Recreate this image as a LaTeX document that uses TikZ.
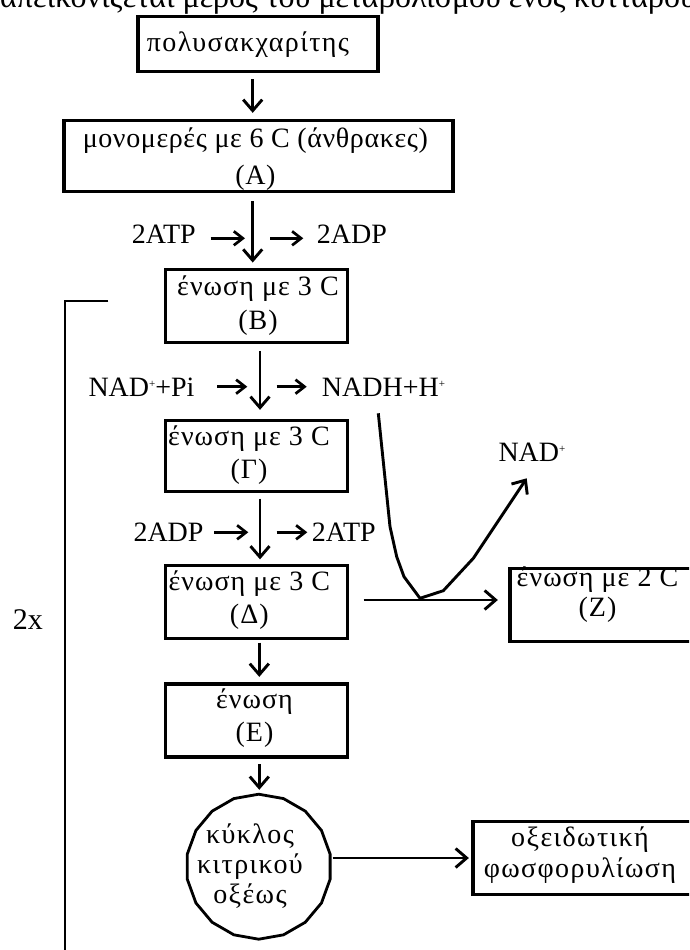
\documentclass[tikz,border=0pt]{standalone}
\usepackage{fontspec}
\setmainfont{Liberation Serif}
\newfontfamily\gkA[LetterSpace=2.2]{Liberation Serif}
\newfontfamily\gkB[LetterSpace=3.8]{Liberation Serif}
\newfontfamily\gkC[LetterSpace=5]{Liberation Serif}
\usetikzlibrary{arrows.meta,shapes.geometric}
\newcommand{\supplus}{\raisebox{9pt}{\fontsize{11}{11}\selectfont +}}
\begin{document}
\begin{tikzpicture}[x=1pt,y=-1pt,
  bx/.style={draw, line width=3.3pt, rectangle, inner sep=0pt},
  tx/.style={font=\gkB\fontsize{28}{33.4}\selectfont, align=center, inner sep=0pt},
  lb/.style={font=\fontsize{28}{33}\selectfont, inner sep=0pt, anchor=base west},
  arr/.style={line width=2.9pt, -{Straight Barb[length=11pt,width=19pt]}},
  sarr/.style={line width=2.7pt, -{Straight Barb[length=9pt,width=14pt]}},
]
\useasboundingbox (0,0) rectangle (689,950);
\clip (0,0) rectangle (689,950);

% cut-off heading line
\node[lb, font=\fontsize{32}{32}\selectfont] (head) at (0,7.5) {απεικονίζεται μέρος του μεταβολισμού ενός κυττάρου};

% boxes
\node[bx, minimum width=240pt, minimum height=55pt] (b1) at (258,43.9) {};
\node[tx, font=\gkC\fontsize{28}{33}\selectfont] (t1) at (248,45) {πολυσακχαρίτης};

\node[bx, minimum width=389pt, minimum height=71pt] (bA) at (258.5,156) {};
\node[tx, font=\gkA\fontsize{28}{36.6}\selectfont] (tA) at (255.4,159) {μονομερές με 6 C (άνθρακες)\\(A)};

\node[bx, minimum width=182pt, minimum height=73pt] (bB) at (256.8,306.2) {};
\node[tx, font=\gkB\fontsize{28}{34}\selectfont] (tB) at (258,306) {ένωση με 3 C\\(B)};

\node[bx, minimum width=182pt, minimum height=71pt] (bG) at (256.8,456) {};
\node[tx] (tG) at (249,455) {ένωση με 3 C\\(Γ)};

\node[bx, minimum width=182pt, minimum height=73pt] (bD) at (256.5,602) {};
\node[tx] (tD) at (249.3,600) {ένωση με 3 C\\(Δ)};

\node[bx, minimum width=182pt, minimum height=73pt] (bE) at (256.5,720.5) {};
\node[tx] (tE) at (254.5,718.4) {ένωση\\(E)};

\node[bx, minimum width=240pt, minimum height=73pt] (bZ) at (630,605.3) {};
\node[tx, font=\gkB\fontsize{28}{30}\selectfont] (tZ) at (597.5,595) {ένωση με 2 C\\(Z)};

\node[bx, minimum width=260pt, minimum height=73pt] (bO) at (603,858) {};
\node[tx, font=\gkC\fontsize{28}{31}\selectfont] (tO) at (580,855) {οξειδωτική\\φωσφορυλίωση};

\node[draw, line width=2.8pt, regular polygon, regular polygon sides=18,
      shape border rotate=10, minimum size=145pt, inner sep=0pt] (cy) at (258.7,866.7) {};
\node[tx, font=\gkC\fontsize{28}{30}\selectfont] (tC) at (250,866) {κύκλος\\κιτρικού\\οξέως};

% side labels
\node[lb] (atp1) at (131.7,243.3) {2ATP};
\node[lb] (adp1) at (316.7,243.3) {2ADP};
\node[lb] (nadpi) at (88.3,396.5) {NAD\supplus+Pi};
\node[lb] (nadh) at (321.7,396.5) {NADH+H\supplus};
\node[lb] (adp2) at (133.3,541.5) {2ADP};
\node[lb] (atp2) at (311.7,541.5) {2ATP};
\node[lb] (nadp) at (498.3,461) {NAD\supplus};
\node[lb, font=\fontsize{30}{33}\selectfont] (twox) at (12.7,629) {2x};

% main vertical arrows
\draw[arr, shorten <=6pt, shorten >=6pt] ([xshift=-5.3pt]b1.south) -- ([xshift=-5.8pt]bA.north);
\draw[arr, shorten <=8pt, shorten >=5.5pt] ([xshift=-5.8pt]bA.south) -- ([xshift=-4.1pt]bB.north);
\draw[arr, shorten <=6.5pt, shorten >=9pt] ([xshift=3.2pt]bB.south) -- ([xshift=3.2pt]bG.north);
\draw[arr, shorten <=5.5pt, shorten >=4.5pt] ([xshift=3.2pt]bG.south) -- ([xshift=3.5pt]bD.north);
\draw[arr, shorten <=2.5pt, shorten >=5.5pt] ([xshift=2.8pt]bD.south) -- ([xshift=2.8pt]bE.north);
\draw[arr, shorten <=5.5pt, shorten >=3pt] ([xshift=2.8pt]bE.south) -- ([xshift=0.6pt]cy.north);

% small side arrows
\coordinate (s1a) at (210.7,238.3); \coordinate (s1b) at (245,238.3);
\coordinate (s2a) at (270,238.3);   \coordinate (s2b) at (303.3,238.3);
\coordinate (s3a) at (217.3,386.7); \coordinate (s3b) at (247.3,386.7);
\coordinate (s4a) at (276.7,386.7); \coordinate (s4b) at (306.7,386.7);
\coordinate (s5a) at (214,532.3);   \coordinate (s5b) at (248.3,532.3);
\coordinate (s6a) at (276.7,532.3); \coordinate (s6b) at (307.3,532.3);
\draw[sarr] (s1a) -- (s1b);
\draw[sarr] (s2a) -- (s2b);
\draw[sarr] (s3a) -- (s3b);
\draw[sarr] (s4a) -- (s4b);
\draw[sarr] (s5a) -- (s5b);
\draw[sarr] (s6a) -- (s6b);

% horizontal arrows
\draw[arr, shorten <=14.5pt, shorten >=10.5pt] ([yshift=2pt]bD.east) -- ([yshift=2pt]bD.east -| bZ.west);
\draw[arr, shorten <=1pt, shorten >=2.5pt] (cy.east |- bO.west) -- (bO.west);

% NADH curve to NAD+
\coordinate (c0) at (378.3,413.3);
\coordinate (c1) at (390,526.7);
\coordinate (c2) at (396.7,556.7);
\coordinate (c3) at (404,576.7);
\coordinate (c4) at (420,598.3);
\coordinate (c5) at (443.3,590.7);
\coordinate (c6) at (473.3,558.3);
\coordinate (c7) at (526.7,478.3);
\draw[arr, line join=round] (c0) -- (c1) -- (c2) -- (c3) -- (c4) -- (c5) -- (c6) -- (c7);

% 2x bracket
\draw[line width=2.9pt] (108.3,301) -- (65,301) -- (65,960);
\end{tikzpicture}
\end{document}
